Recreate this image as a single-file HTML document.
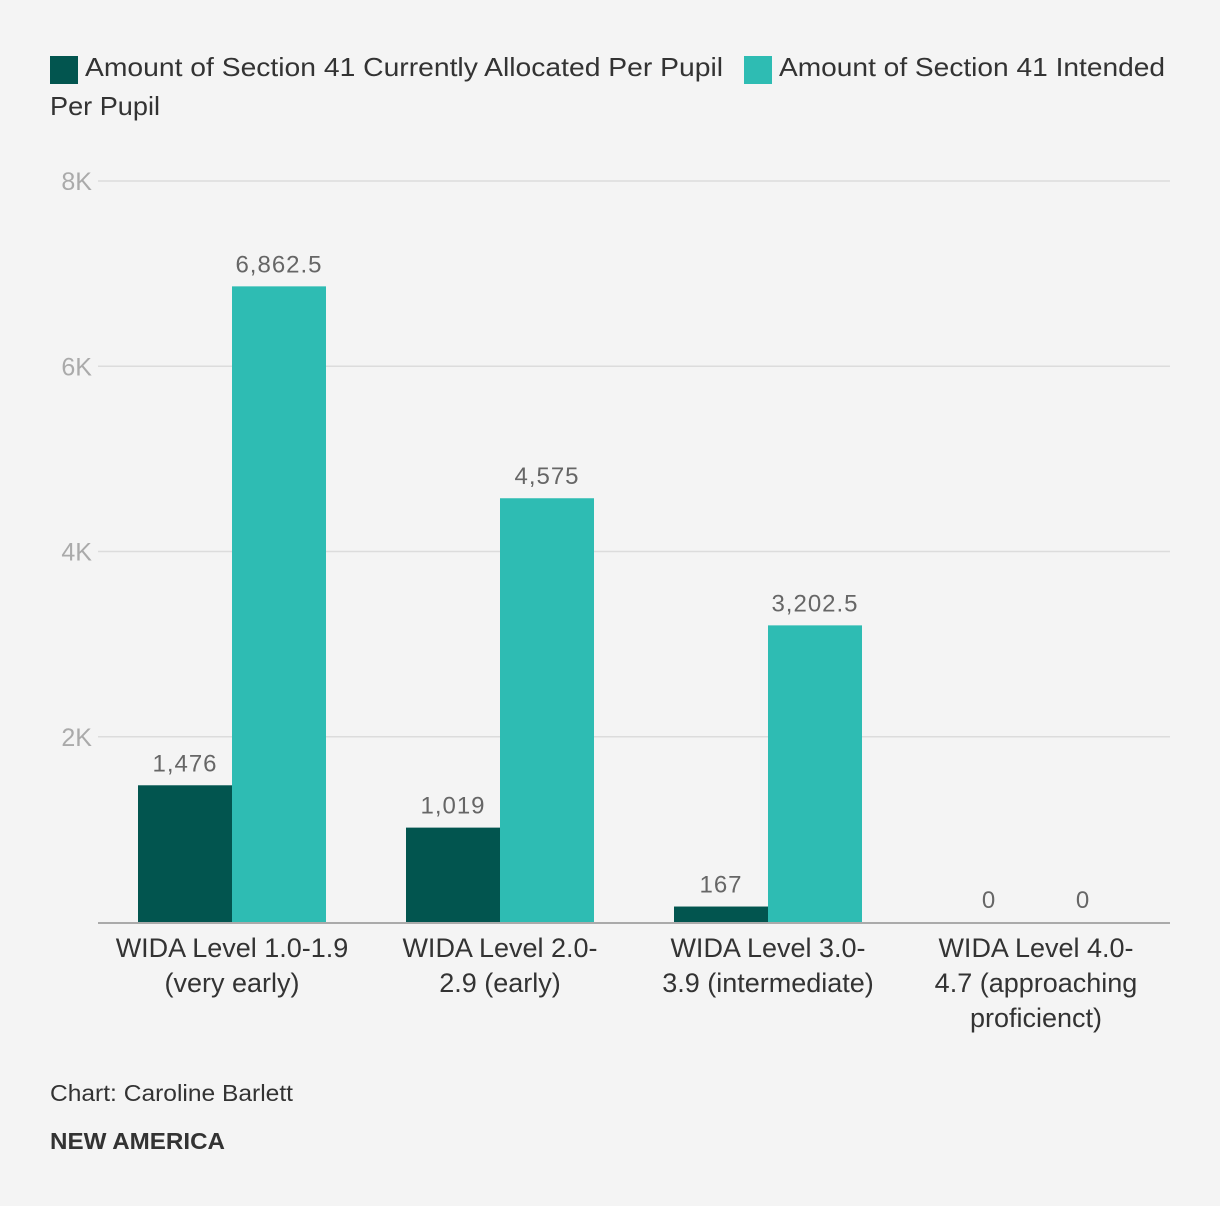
<!DOCTYPE html>
<html><head><meta charset="utf-8">
<style>
body{margin:0;background:#f4f4f4;width:1220px;height:1206px;overflow:hidden;font-family:"Liberation Sans",sans-serif;}
svg{position:absolute;left:0;top:0}
</style></head>
<body>
<svg id="chart" width="1220" height="1206"></svg>
<script>
const categories=[["WIDA Level 1.0-1.9","(very early)"],["WIDA Level 2.0-","2.9 (early)"],["WIDA Level 3.0-","3.9 (intermediate)"],["WIDA Level 4.0-","4.7 (approaching","proficienct)"]];
const allocated=[1476,1019,167,0];
const intended=[6862.5,4575,3202.5,0];
const ticks=[2000,4000,6000,8000];
const tickLabels=["2K","4K","6K","8K"];
const NS="http://www.w3.org/2000/svg";
const svg=document.getElementById('chart');
const x0=98,x1=1170,yZero=922,yTop=181,yMax=8000;
const y=v=>yZero-(v/yMax)*(yZero-yTop);
const groupW=(x1-x0)/categories.length,barW=94;
function mk(tag,attrs,txt){const e=document.createElementNS(NS,tag);for(const k in attrs)e.setAttribute(k,attrs[k]);if(txt!==undefined)e.textContent=txt;svg.appendChild(e);return e;}
const fmt=v=>v.toLocaleString('en-US',{maximumFractionDigits:1});
let e;
e=mk('rect',{x:50,y:56,width:28,height:28,fill:'#02554f'});


e=mk('text',{x:85,y:76,'font-size':26,fill:'#333',textLength:638,lengthAdjust:'spacingAndGlyphs'},'Amount of Section 41 Currently Allocated Per Pupil');


e=mk('rect',{x:744,y:56,width:28,height:28,fill:'#2ebcb3'});


e=mk('text',{x:779,y:76,'font-size':26,fill:'#333',textLength:386,lengthAdjust:'spacingAndGlyphs'},'Amount of Section 41 Intended');


e=mk('text',{x:50,y:115,'font-size':26,fill:'#333',textLength:110,lengthAdjust:'spacingAndGlyphs'},'Per Pupil');


ticks.forEach((t,i)=>{
 e=mk('line',{x1:x0,x2:x1,y1:y(t),y2:y(t),stroke:'#dcdcdc','stroke-width':1.5});
 
 
 e=mk('text',{x:92,y:y(t)+9,'font-size':25,fill:'#aaa','text-anchor':'end'},tickLabels[i]);
 
 
});
categories.forEach((c,i)=>{
 const cx=x0+groupW*i+groupW/2;
 [[allocated[i],'#02554f',cx-barW,'bar-allocated'],[intended[i],'#2ebcb3',cx,'bar-intended']].forEach(([v,col,bx,nm])=>{
  e=mk('rect',{x:bx,y:y(v),width:barW,height:yZero-y(v),fill:col});
  
  
  e=mk('text',{x:bx+barW/2,y:y(v)-14,'font-size':24,fill:'#666','text-anchor':'middle','letter-spacing':1},fmt(v));
  
  
 });
 c.forEach((ln,j)=>{
  e=mk('text',{x:cx,y:957+j*35,'font-size':27,fill:'#333','text-anchor':'middle'},ln);
  
  
 });
});
e=mk('line',{x1:x0,x2:x1,y1:yZero+1,y2:yZero+1,stroke:'#aaa','stroke-width':2});


e=mk('text',{x:50,y:1101,'font-size':23,fill:'#333',textLength:243,lengthAdjust:'spacingAndGlyphs'},'Chart: Caroline Barlett');


e=mk('text',{x:50,y:1149,'font-size':23,fill:'#333','font-weight':'bold',textLength:175,lengthAdjust:'spacingAndGlyphs'},'NEW AMERICA');


</script>
</body></html>
